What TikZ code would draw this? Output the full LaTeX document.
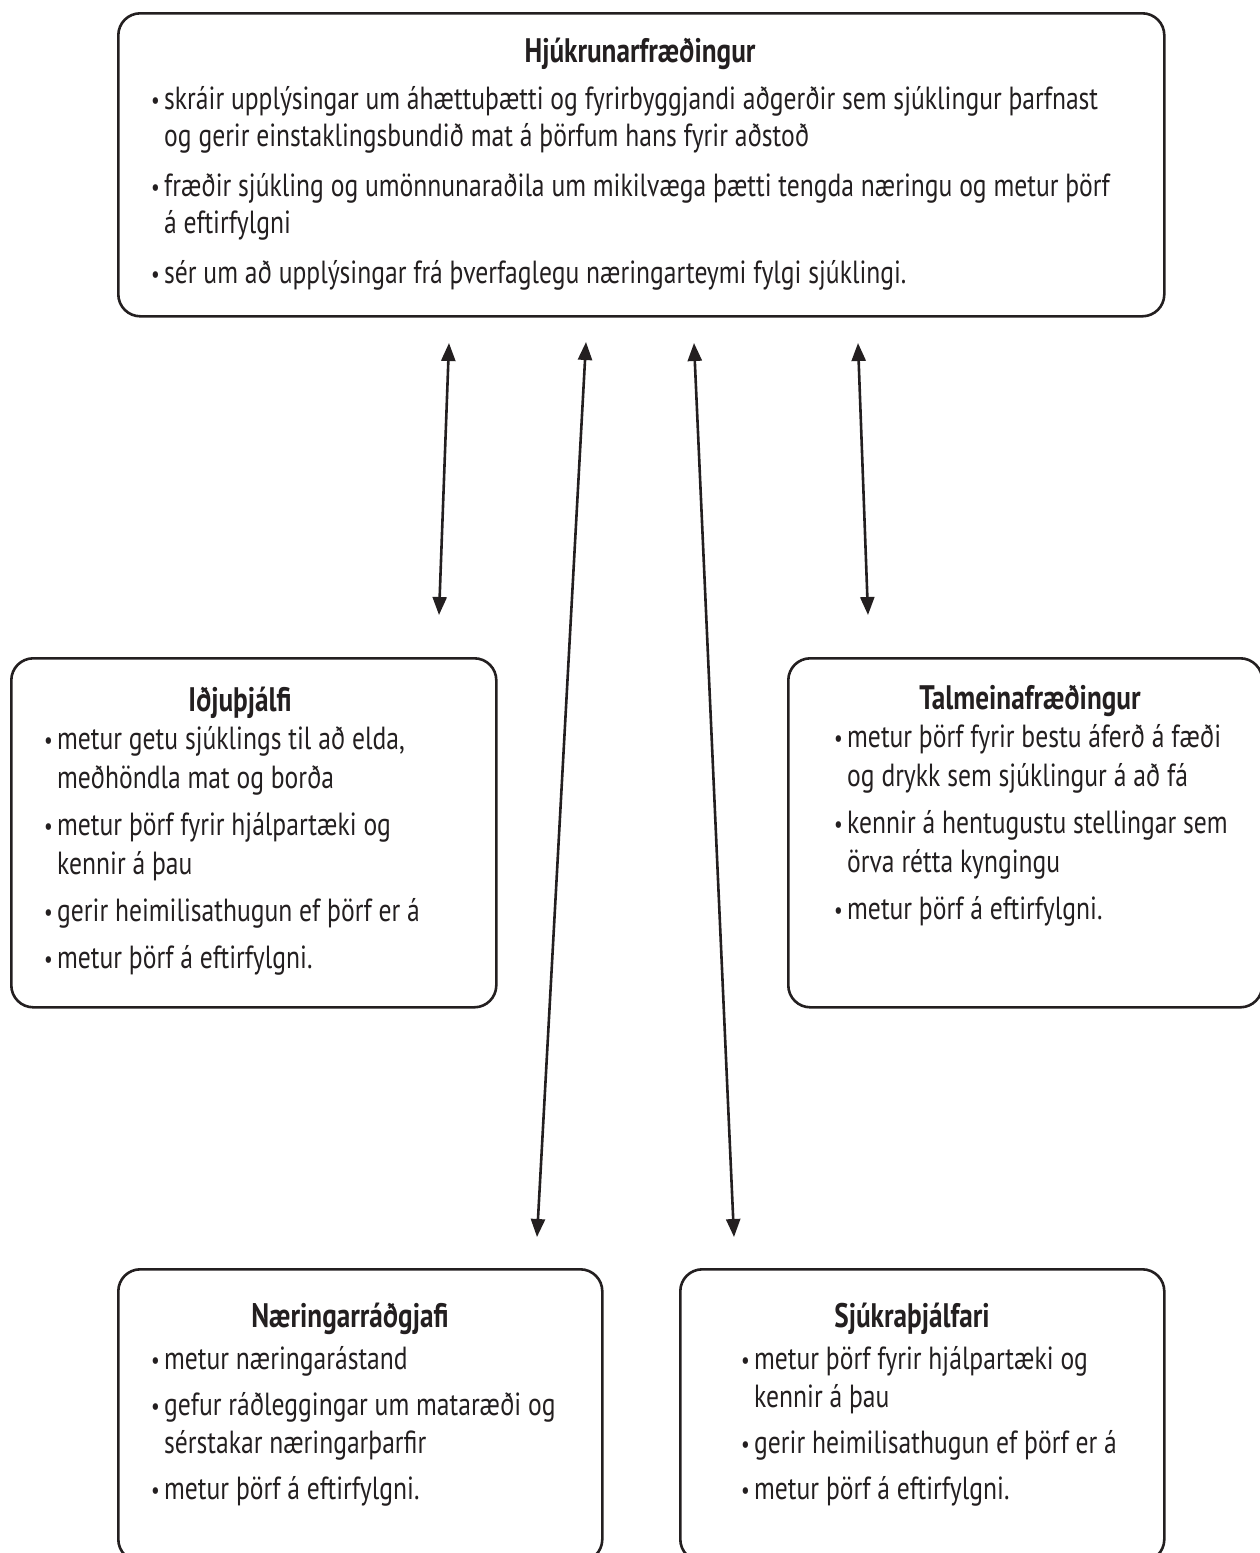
\documentclass[tikz,border=0pt]{standalone}
\usepackage{fontspec}
\setmainfont{PT Sans}[FakeStretch=0.8]
\usetikzlibrary{arrows.meta}
\definecolor{ink}{HTML}{231F20}
\newcommand{\itm}{\makebox[13pt][l]{\raisebox{1pt}{\fontsize{24}{24}\selectfont\textbullet}}}
\newcommand{\hng}{\hspace*{13pt}}

\begin{document}
\begin{tikzpicture}[x=1pt,y=-1pt,
  box/.style={draw=ink, line width=2.6pt, rounded corners=22pt, anchor=north west, inner sep=0pt},
  head/.style={font=\fontsize{34}{38}\selectfont\bfseries, text=ink, anchor=base},
  list/.style={font=\fontsize{32}{39}\selectfont, text=ink, align=left, anchor=north west, inner sep=0pt},
  twoway/.style={draw=ink, line width=2.6pt, {Triangle[length=18pt,width=14pt]}-{Triangle[length=18pt,width=14pt]}}]
\useasboundingbox (0,0) rectangle (1260,1553);

% Draw the five boxes
\node[box, minimum width=1046pt, minimum height=303pt] (hjuk) at (117,12) {};
\node[box, minimum width=485pt, minimum height=349pt] (idju) at (10,657) {};
\node[box, minimum width=474pt, minimum height=349pt] (talm) at (787,657) {};
\node[box, minimum width=484pt, minimum height=292pt] (naer) at (117,1268) {};
\node[box, minimum width=484pt, minimum height=292pt] (sjuk) at (679,1268) {};

% Titles
\node[head] (hjuk-t) at (640,62) {Hjúkrunarfræðingur};
\node[head] (idju-t) at (240,711) {Iðjuþjálfi};
\node[head] (talm-t) at (1030,709) {Talmeinafræðingur};
\node[head] (naer-t) at (350,1327) {Næringarráðgjafi};
\node[head] (sjuk-t) at (912,1327) {Sjúkraþjálfari};

% Bullet lists
\node[list, font=\fontsize{32}{37}\selectfont] (hjuk-l) at (151,86) {\itm skráir upplýsingar um áhættuþætti og fyrirbyggjandi aðgerðir sem sjúklingur þarfnast\\
  \hng og gerir einstaklingsbundið mat á þörfum hans fyrir aðstoð\\[13pt]
  \itm fræðir sjúkling og umönnunaraðila um mikilvæga þætti tengda næringu og metur þörf\\
  \hng á eftirfylgni\\[13pt]
  \itm sér um að upplýsingar frá þverfaglegu næringarteymi fylgi sjúklingi.};
\node[list] (idju-l) at (44,726) {\itm metur getu sjúklings til að elda,\\
  \hng meðhöndla mat og borða\\[8pt]
  \itm metur þörf fyrir hjálpartæki og\\
  \hng kennir á þau\\[8pt]
  \itm gerir heimilisathugun ef þörf er á\\[8pt]
  \itm metur þörf á eftirfylgni.};
\node[list] (talm-l) at (834,724) {\itm metur þörf fyrir bestu áferð á fæði\\
  \hng og drykk sem sjúklingur á að fá\\[8pt]
  \itm kennir á hentugustu stellingar sem\\
  \hng örva rétta kyngingu\\[8pt]
  \itm metur þörf á eftirfylgni.};
\node[list, font=\fontsize{32}{38}\selectfont] (naer-l) at (151,1346) {\itm metur næringarástand\\[8pt]
  \itm gefur ráðleggingar um mataræði og\\
  \hng sérstakar næringarþarfir\\[8pt]
  \itm metur þörf á eftirfylgni.};
\node[list, font=\fontsize{32}{38}\selectfont] (sjuk-l) at (741,1346) {\itm metur þörf fyrir hjálpartæki og\\
  \hng kennir á þau\\[8pt]
  \itm gerir heimilisathugun ef þörf er á\\[8pt]
  \itm metur þörf á eftirfylgni.};

% Arrow ends
\coordinate (a1t) at (449,343);
\coordinate (a1b) at (439,615);
\coordinate (a2t) at (586,342);
\coordinate (a2b) at (537,1237);
\coordinate (a3t) at (694,343);
\coordinate (a3b) at (734,1237);
\coordinate (a4t) at (858,343);
\coordinate (a4b) at (868,615);

% Draw the arrows
\draw[twoway] (a1t) -- (a1b);
\draw[twoway] (a2t) -- (a2b);
\draw[twoway] (a3t) -- (a3b);
\draw[twoway] (a4t) -- (a4b);
\end{tikzpicture}
\end{document}
